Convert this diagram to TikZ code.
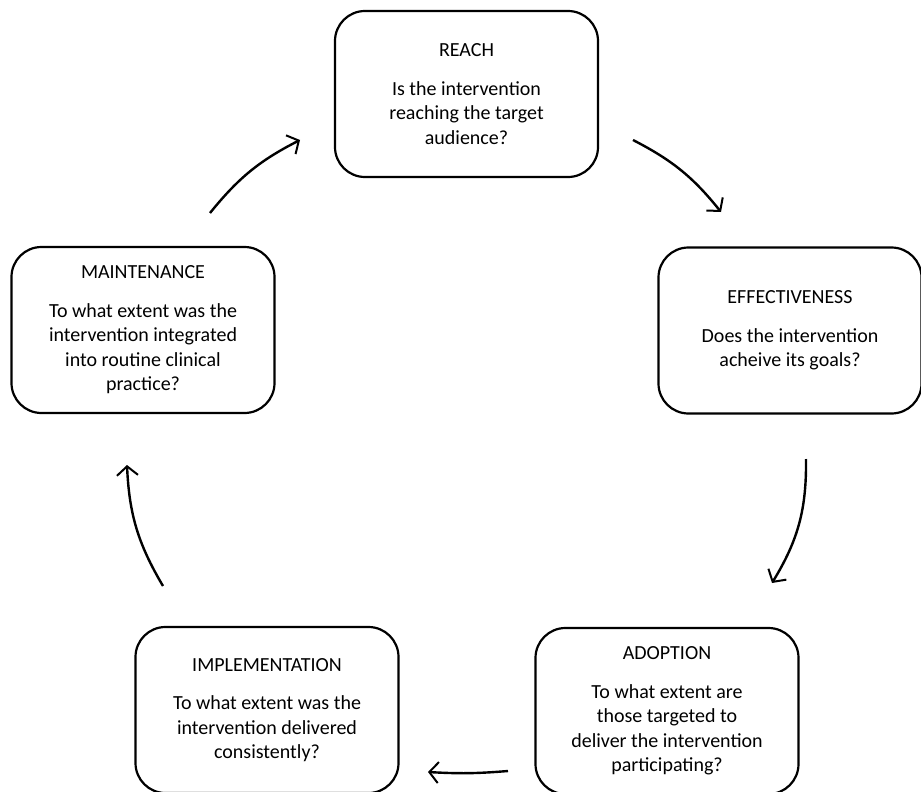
\documentclass[tikz,border=0pt]{standalone}
\usepackage{fontspec}
\setmainfont{Carlito}
\usetikzlibrary{arrows.meta}
\tikzset{
  stagebox/.style={draw=black, line width=2.2pt, rounded corners=30pt, fill=white,
    minimum width=263pt, minimum height=166pt, align=center, inner sep=0pt,
    font=\fontsize{20}{24.5}\selectfont},
  flow/.style={line width=2.4pt, -{Straight Barb[length=9pt,width=21pt,line width=2pt]}}
}
\begin{document}
\begin{tikzpicture}[x=1pt,y=-1pt]
\useasboundingbox (0,0) rectangle (921,792);
\node[stagebox] (reach) at (466.5,94) {REACH\\[14pt]Is the intervention\\reaching the target\\audience?};
\node[stagebox] (eff) at (790,330.5) {EFFECTIVENESS\\[14pt]Does the intervention\\acheive its goals?};
\node[stagebox] (adopt) at (667,711) {ADOPTION\\[14pt]To what extent are\\those targeted to\\deliver the intervention\\participating?};
\node[stagebox] (impl) at (267,710) {IMPLEMENTATION\\[14pt]To what extent was the\\intervention delivered\\consistently?};
\node[stagebox] (maint) at (143,330) {MAINTENANCE\\[14pt]To what extent was the\\intervention integrated\\into routine clinical\\practice?};
\coordinate (a1s) at (210,213);
\coordinate (a1e) at (300,140);
\coordinate (a2s) at (633,140);
\coordinate (a2e) at (721,212);
\coordinate (a3s) at (806,459);
\coordinate (a3e) at (772,583);
\coordinate (a4s) at (508,771);
\coordinate (a4e) at (428,772);
\coordinate (a5s) at (163,586);
\coordinate (a5e) at (127,465);
\draw[flow] (a1s) to[bend left=12] (a1e);
\draw[flow] (a2s) to[bend left=12] (a2e);
\draw[flow] (a3s) to[bend left=16] (a3e);
\draw[flow] (a4s) to[bend left=4] (a4e);
\draw[flow] (a5s) to[bend left=14] (a5e);
\end{tikzpicture}
\end{document}
